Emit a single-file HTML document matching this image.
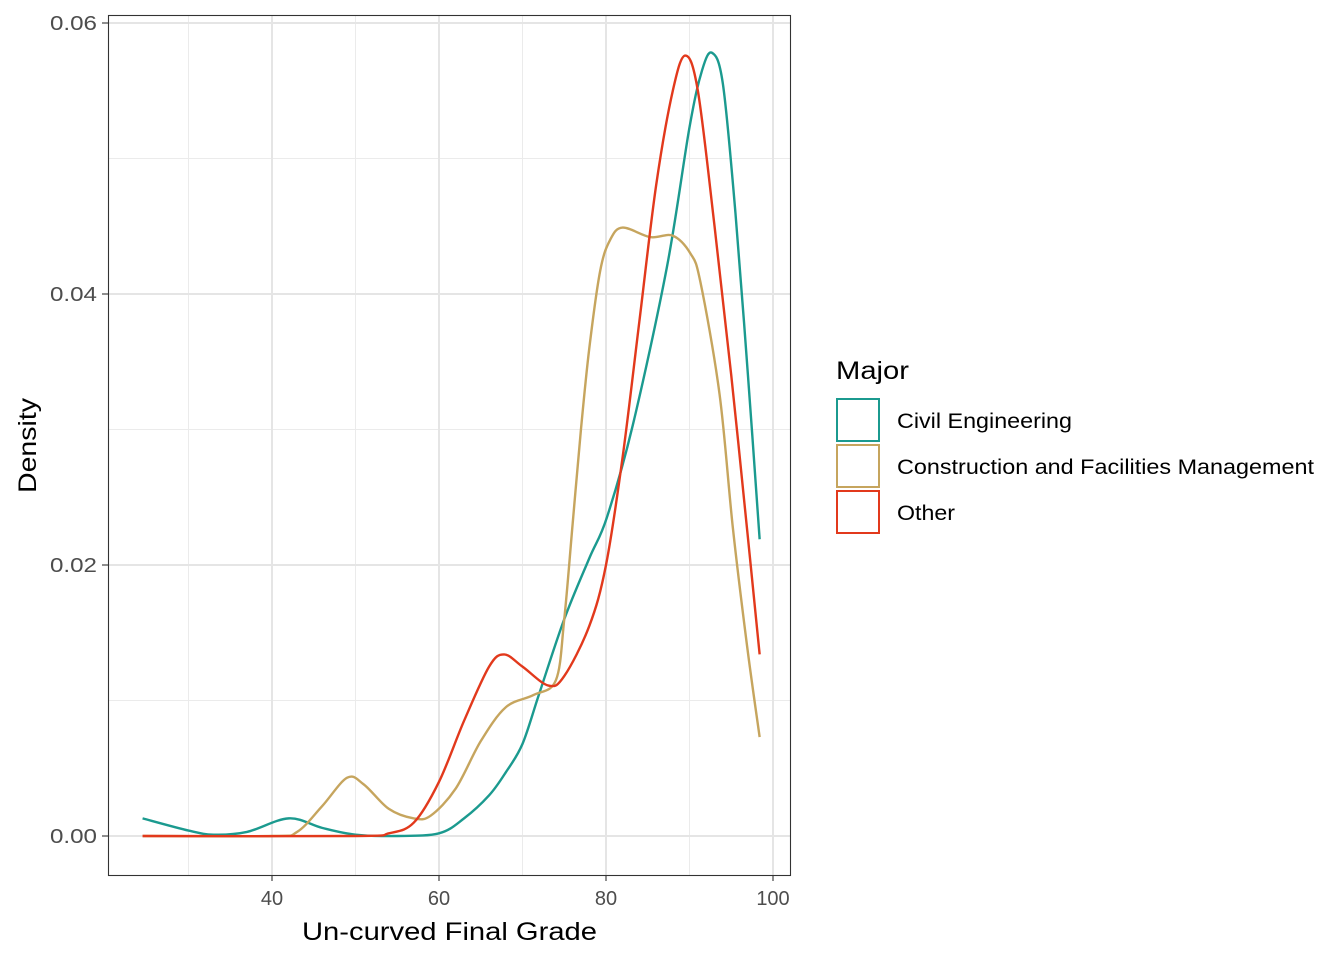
<!DOCTYPE html>
<html><head><meta charset="utf-8"><style>
body{margin:0;background:#fff;font-family:"Liberation Sans",Arial,sans-serif}
</style></head><body>
<svg id="chart" width="1344" height="960" xmlns="http://www.w3.org/2000/svg" font-family="Liberation Sans, Arial, sans-serif">
<g id="grid"></g>
<g id="series"></g>
<rect x="108.5" y="15.5" width="682" height="860" fill="none" stroke="#333" stroke-width="1.1"/>
<g id="axes"></g>
<text x="302" y="940" font-size="25" textLength="295" lengthAdjust="spacingAndGlyphs" fill="#000">Un-curved Final Grade</text>
<text transform="translate(36,493) rotate(-90)" font-size="25" textLength="95" lengthAdjust="spacingAndGlyphs" fill="#000">Density</text>
<g>
<text x="836" y="379" font-size="25" textLength="73" lengthAdjust="spacingAndGlyphs">Major</text>
<rect x="837" y="399" width="42" height="42" fill="#fff" stroke="#1b9a8f" stroke-width="2"/>
<text x="897" y="428" font-size="21" textLength="175" lengthAdjust="spacingAndGlyphs">Civil Engineering</text>
<rect x="837" y="445" width="42" height="42" fill="#fff" stroke="#c6a55e" stroke-width="2"/>
<text x="897" y="474" font-size="21" textLength="417" lengthAdjust="spacingAndGlyphs">Construction and Facilities Management</text>
<rect x="837" y="491" width="42" height="42" fill="#fff" stroke="#e2391c" stroke-width="2"/>
<text x="897" y="520" font-size="21" textLength="58" lengthAdjust="spacingAndGlyphs">Other</text>
</g>
</svg>
<script>
const xTicks=[40,60,80,100];
const xMinor=[30,50,70,90];
const yTicks=[0,0.02,0.04,0.06];
const yTickLabels=["0.00","0.02","0.04","0.06"];
const yMinor=[0.01,0.03,0.05];
const civilX=[24.5,30,33,37,42,46,50,55,60,63,66,68,70,72,75,78,80.1,83.2,87.3,90,91.5,92.7,94,95.5,97,98.4];
const civilY=[0.0013,0.0004,0.0001,0.0003,0.0013,0.0006,0.0001,0,0.0002,0.0013,0.003,0.0047,0.0068,0.0105,0.016,0.0205,0.0235,0.0303,0.042,0.0523,0.0565,0.0578,0.0555,0.046,0.034,0.0219];
const constrX=[24.5,40,43,46,49,51,54,57,59,62,65,68,71.3,74,75,76,77,78,79.3,80.5,82,85.3,88,90.1,91.3,93.6,95.2,96.9,98.4];
const constrY=[0,0,0.0003,0.0022,0.0043,0.0038,0.002,0.0013,0.0015,0.0035,0.007,0.0095,0.0104,0.0115,0.016,0.023,0.030,0.036,0.0417,0.044,0.0449,0.0442,0.0443,0.043,0.0409,0.0326,0.0227,0.014,0.0073];
const otherX=[24.5,50,54,57,60,63,66,67.8,70,73.1,75,78,80,82,84,86,88,89.5,91,93,95,97,98.4];
const otherY=[0,0,0.0002,0.001,0.004,0.0085,0.0125,0.0134,0.0125,0.0111,0.0118,0.0155,0.020,0.028,0.038,0.048,0.055,0.0576,0.055,0.045,0.034,0.022,0.0134];
const sx=v=>272+(v-40)*8.35;
const sy=v=>836-v*13550;
const NS="http://www.w3.org/2000/svg";
function mk(tag,attrs,parent){const e=document.createElementNS(NS,tag);for(const k in attrs)e.setAttribute(k,attrs[k]);parent.appendChild(e);return e;}
const grid=document.getElementById('grid'),axes=document.getElementById('axes'),series=document.getElementById('series');
xMinor.forEach(v=>{const l=mk('line',{x1:sx(v),x2:sx(v),y1:15,y2:875,stroke:'#ebebeb','stroke-width':1},grid);

});
yMinor.forEach(v=>{const l=mk('line',{x1:108,x2:790,y1:sy(v),y2:sy(v),stroke:'#ebebeb','stroke-width':1},grid);

});
xTicks.forEach(v=>{const l=mk('line',{x1:sx(v),x2:sx(v),y1:15,y2:875,stroke:'#e5e5e5','stroke-width':2},grid);


const t=mk('line',{x1:sx(v),x2:sx(v),y1:875,y2:881,stroke:'#333','stroke-width':1.1},axes);


const tx=mk('text',{x:sx(v),y:905,'font-size':20,'text-anchor':'middle',fill:'#4d4d4d'},axes);tx.textContent=v;

});
yTicks.forEach((v,i)=>{const l=mk('line',{x1:108,x2:790,y1:sy(v),y2:sy(v),stroke:'#e5e5e5','stroke-width':2},grid);


const t=mk('line',{x1:102,x2:108,y1:sy(v),y2:sy(v),stroke:'#333','stroke-width':1.1},axes);


const tx=mk('text',{x:50,y:sy(v)+7,'font-size':20,textLength:47,lengthAdjust:'spacingAndGlyphs',fill:'#4d4d4d'},axes);tx.textContent=yTickLabels[i];

});
function pathFor(X,Y){const p=X.map((x,i)=>[sx(x),sy(Y[i])]);let d='M'+p[0][0]+','+p[0][1];
for(let i=0;i<p.length-1;i++){const p0=p[Math.max(0,i-1)],p1=p[i],p2=p[i+1],p3=p[Math.min(p.length-1,i+2)];
const c1=[p1[0]+(p2[0]-p0[0])/6,p1[1]+(p2[1]-p0[1])/6],c2=[p2[0]-(p3[0]-p1[0])/6,p2[1]-(p3[1]-p1[1])/6];
d+=' C'+c1+' '+c2+' '+p2;}return d;}
[[civilX,civilY,'#1b9a8f','civil-engineering-line'],[constrX,constrY,'#c6a55e','construction-line'],[otherX,otherY,'#e2391c','other-line']].forEach(s=>{
const e=mk('path',{d:pathFor(s[0],s[1]),fill:'none',stroke:s[2],'stroke-width':2.4},series);

});
</script>
</body></html>
